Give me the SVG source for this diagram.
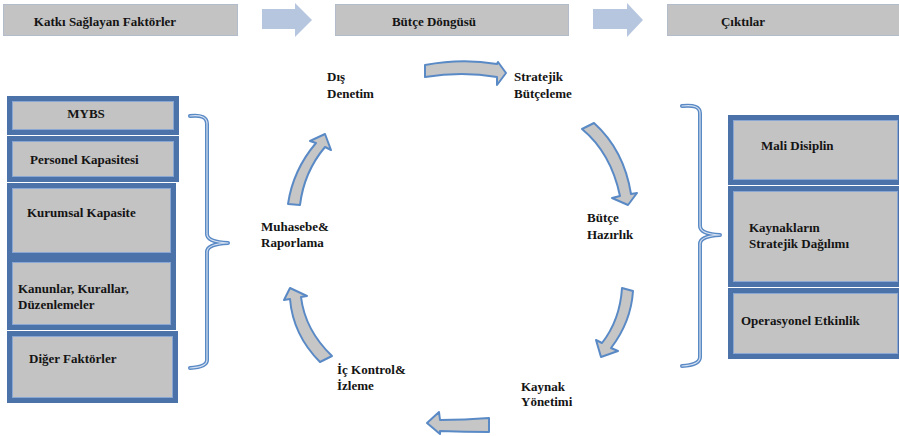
<svg xmlns="http://www.w3.org/2000/svg" width="899" height="436" viewBox="0 0 899 436">
<style>
.hdr{fill:#c3c3c3;stroke:#b3bccb;stroke-width:1}
.harr{fill:#b7c6df;stroke:none}
.box{fill:#c3c3c3;stroke:#4b73aa;stroke-width:5}
.boxin{fill:none;stroke:#8aa7d3;stroke-width:1}
.t{font-family:"Liberation Serif","Times New Roman",serif;font-weight:bold;font-size:13px;fill:#141414}
.carr{fill:#c6c6c6;stroke:#5a8ac6;stroke-width:2;stroke-linejoin:round}
.br{fill:none;stroke:#5a8ac6;stroke-width:4;stroke-linecap:round;stroke-linejoin:round}
.brin{fill:none;stroke:#d4e0f0;stroke-width:1.2;stroke-linecap:round;stroke-linejoin:round}
</style>
<rect width="899" height="436" fill="#ffffff"/>

<g id="header-katki">
<rect class="hdr" x="3.5" y="4.5" width="234" height="31"/>
<text class="t" x="105" y="26" text-anchor="middle">Katkı Sağlayan Faktörler</text>
</g>
<g id="header-butce">
<rect class="hdr" x="335.5" y="4.5" width="233" height="31"/>
<text class="t" x="434" y="26" text-anchor="middle">Bütçe Döngüsü</text>
</g>
<g id="header-ciktilar">
<rect class="hdr" x="667.5" y="4.5" width="233" height="31"/>
<text class="t" x="743" y="26" text-anchor="middle">Çıktılar</text>
</g>

<g id="connectors">
<polygon class="harr" points="262,9 295,9 295,3 312,20 295,37 295,29 262,29"/>
<polygon class="harr" points="593,9 627,9 627,3 643,20 627,37 627,29 593,29"/>

<path class="carr" d="M425,65 Q462,58 497,64 L498,62 L506,73 L497,85 L497,77 Q462,71 425,77 Z"/>
<path class="carr" d="M582,129 L594,123 Q624,150 631,194 L637,193 L628,205 L612,198 L620,196 Q611,153 582,129 Z"/>
<path class="carr" d="M622,288 L633,291 Q631,322 611,348 L618,351 L601,357 L596,340 L602,343 Q620,320 622,288 Z"/>
<path class="carr" d="M489,418 Q465,420 440,420 L439,412 L427,423 L440,434 L440,431 Q465,432 489,432 Z"/>
<path class="carr" d="M320,362 L332,356 Q305,330 301,297 L307,296 L290,288 L284,300 L290,299 Q293,335 320,362 Z"/>
<path class="carr" d="M288,204 L300,205 Q304,172 325,147 L331,150 L325,134 L310,141 L316,143 Q293,170 288,204 Z"/>

<path class="br" d="M190,116 Q207,114 207,124 L207,234 Q207,242 228,243 Q207,244 207,252 L207,360 Q207,367 190,368"/>
<path class="brin" d="M190,116 Q207,114 207,124 L207,234 Q207,242 228,243 Q207,244 207,252 L207,360 Q207,367 190,368"/>
<path class="br" d="M682,106 Q700,104 700,113 L700,226 Q700,234 720,235 Q700,236 700,244 L700,357 Q700,365 682,366"/>
<path class="brin" d="M682,106 Q700,104 700,113 L700,226 Q700,234 720,235 Q700,236 700,244 L700,357 Q700,365 682,366"/>
</g>

<g id="mybs">
<rect class="box" x="9.5" y="98.5" width="167" height="34"/>
<rect class="boxin" x="12.5" y="101.5" width="161" height="28"/>
<text class="t" x="86" y="118" text-anchor="middle">MYBS</text>
</g>
<g id="personel">
<rect class="box" x="9.5" y="138.5" width="167" height="41"/>
<rect class="boxin" x="12.5" y="141.5" width="161" height="35"/>
<text class="t" x="30" y="164">Personel Kapasitesi</text>
</g>
<g id="kurumsal">
<rect class="box" x="9.5" y="185.5" width="164" height="70"/>
<rect class="boxin" x="12.5" y="188.5" width="158" height="64"/>
<text class="t" x="27" y="217">Kurumsal Kapasite</text>
</g>
<g id="kanunlar">
<rect class="box" x="9.5" y="259.5" width="164" height="68"/>
<rect class="boxin" x="12.5" y="262.5" width="158" height="62"/>
<text class="t" x="18" y="293">Kanunlar, Kurallar,</text>
<text class="t" x="18" y="309">Düzenlemeler</text>
</g>
<g id="diger">
<rect class="box" x="9.5" y="333.5" width="166" height="67"/>
<rect class="boxin" x="12.5" y="336.5" width="160" height="61"/>
<text class="t" x="29" y="363">Diğer Faktörler</text>
</g>

<g id="dis-denetim">
<text class="t" x="327" y="81">Dış</text>
<text class="t" x="327" y="98">Denetim</text>
</g>
<g id="stratejik-butceleme">
<text class="t" x="514" y="81">Stratejik</text>
<text class="t" x="514" y="98">Bütçeleme</text>
</g>
<g id="butce-hazirlik">
<text class="t" x="587" y="222">Bütçe</text>
<text class="t" x="587" y="239">Hazırlık</text>
</g>
<g id="kaynak-yonetimi">
<text class="t" x="521" y="391">Kaynak</text>
<text class="t" x="521" y="406">Yönetimi</text>
</g>
<g id="ic-kontrol">
<text class="t" x="337" y="374">İç Kontrol&amp;</text>
<text class="t" x="337" y="390">İzleme</text>
</g>
<g id="muhasebe">
<text class="t" x="261" y="231">Muhasebe&amp;</text>
<text class="t" x="261" y="247">Raporlama</text>
</g>

<g id="mali-disiplin">
<rect class="box" x="730.5" y="117.5" width="170" height="65"/>
<rect class="boxin" x="733.5" y="120.5" width="164" height="59"/>
<text class="t" x="761" y="150">Mali Disiplin</text>
</g>
<g id="kaynaklarin">
<rect class="box" x="730.5" y="188.5" width="170" height="96"/>
<rect class="boxin" x="733.5" y="191.5" width="164" height="90"/>
<text class="t" x="749" y="232">Kaynakların</text>
<text class="t" x="749" y="248">Stratejik Dağılımı</text>
</g>
<g id="operasyonel">
<rect class="box" x="730.5" y="290.5" width="170" height="66"/>
<rect class="boxin" x="733.5" y="293.5" width="164" height="60"/>
<text class="t" x="741" y="325">Operasyonel Etkinlik</text>
</g>
</svg>
